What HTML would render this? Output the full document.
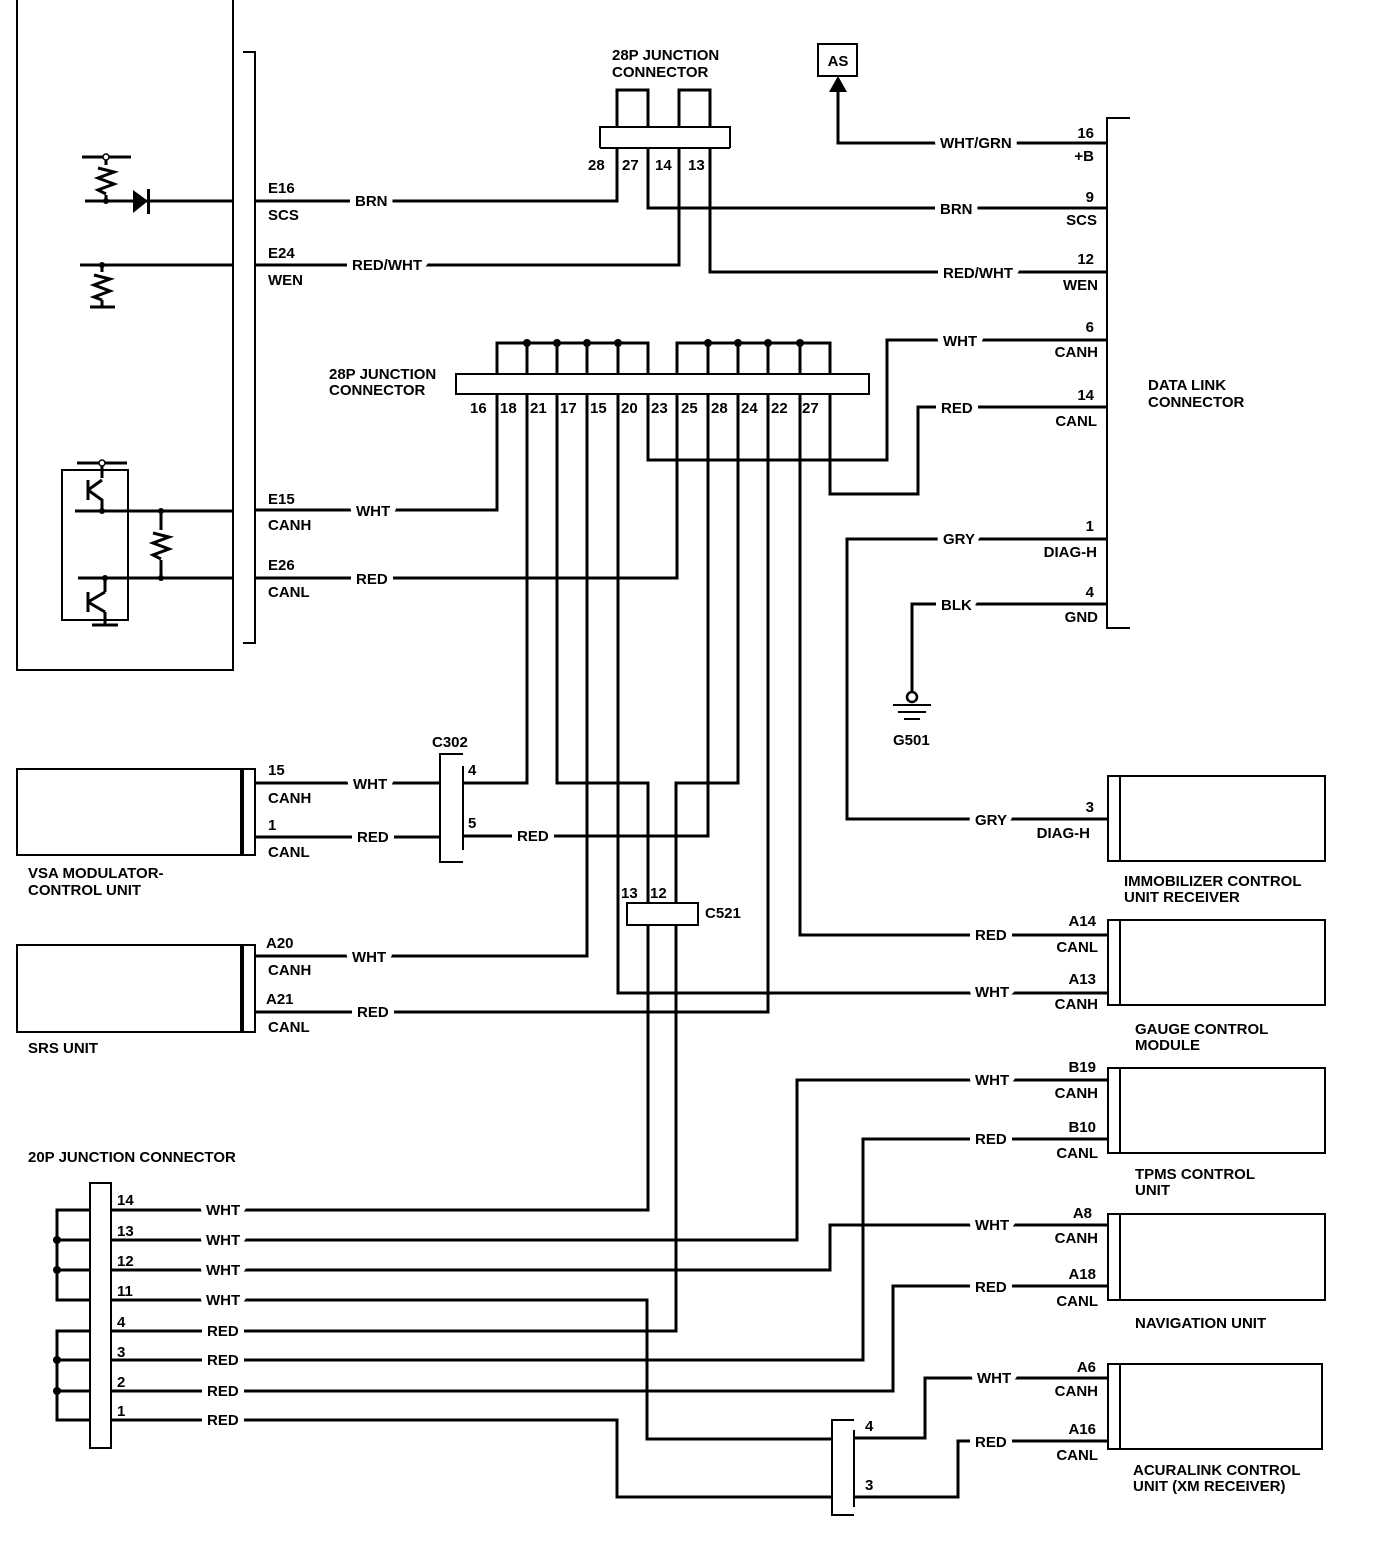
<!DOCTYPE html>
<html><head><meta charset="utf-8"><style>
html,body{margin:0;padding:0;background:#fff}
svg{display:block}
text{font-family:"Liberation Sans",Arial,sans-serif;font-weight:bold;font-size:15px;fill:#000;stroke:#fff;stroke-width:12px;paint-order:stroke;stroke-linejoin:round}
.n{stroke:none}
</style></head><body>
<svg width="1376" height="1548" viewBox="0 0 1376 1548" xmlns="http://www.w3.org/2000/svg">
<g fill="none" stroke="#000" stroke-width="2">
<path d="M17,0 V670 H233 V0"/>
<path d="M243,52 H255 V643 H243"/>
<path d="M1130,118 H1107 V628 H1130"/>
<path d="M600,148 V127 H730 V148 M600,148 H730"/>
<path d="M456,394 V374 H869 V394 Z"/>
<rect x="818" y="44" width="39" height="32"/>
<rect x="17" y="769" width="224" height="86"/><path d="M243,769 H255 V855 H243 Z"/>
<rect x="17" y="945" width="224" height="87"/><path d="M243,945 H255 V1032 H243 Z"/>
<path d="M463,754 H440 V862 H463 M463,766 V850"/>
<path d="M627,903 H698 V925 H627 Z"/>
<rect x="1120" y="776" width="205" height="85"/><path d="M1120,776 H1108 V861 H1120"/>
<rect x="1120" y="920" width="205" height="85"/><path d="M1120,920 H1108 V1005 H1120"/>
<rect x="1120" y="1068" width="205" height="85"/><path d="M1120,1068 H1108 V1153 H1120"/>
<rect x="1120" y="1214" width="205" height="86"/><path d="M1120,1214 H1108 V1300 H1120"/>
<rect x="1120" y="1364" width="202" height="85"/><path d="M1120,1364 H1108 V1449 H1120"/>
<rect x="90" y="1183" width="21" height="265"/>
<path d="M854,1420 H832 V1515 H854 M854,1430 V1507"/>
<rect x="62" y="470" width="66" height="150"/>
</g>
<g fill="none" stroke="#000" stroke-width="3">
<path d="M82,157 H131 M106,157 V165 M106,195 V201 M85,201 H233"/>
<path d="M98,168 L114,172 L98,178 L114,184 L98,190 L106,194"/>
<path d="M80,265 H233 M102,265 V272 M102,300 V307 M90,307 H115"/>
<path d="M94,275 L110,279 L94,285 L110,291 L94,297 L102,300"/>
<path d="M77,463 H127 M102,463 V478 M75,511 H233 M78,578 H233 M161,511 V530 M161,560 V578 M105,578 V592 M105,612 V625 M92,625 H118"/>
<path d="M153,533 L169,537 L153,543 L169,549 L153,555 L161,559"/>
<path d="M88,480 V500 M88,490 L102,480 M88,490 L102,500 V511 M88,592 V612 M88,602 L105,592 M88,602 L105,612"/>
<path d="M617,127 V90 H648 V127 M679,127 V90 H710 V127"/>
<path d="M497,374 V343 H648 V374 M527,343 V374 M557,343 V374 M587,343 V374 M618,343 V374"/>
<path d="M677,374 V343 H830 V374 M708,343 V374 M738,343 V374 M768,343 V374 M800,343 V374"/>
<path d="M255,201 H617 V148"/>
<path d="M648,148 V208 H1107"/>
<path d="M255,265 H679 V148"/>
<path d="M710,148 V272 H1107"/>
<path d="M838,86 V143 H1107"/>
<path d="M255,510 H497 V394"/>
<path d="M527,394 V783 H463"/>
<path d="M557,394 V783 H648 V903 M648,925 V1210 H111"/>
<path d="M587,394 V956 H255"/>
<path d="M618,394 V993 H1108"/>
<path d="M648,394 V460 H887 V340 H1107"/>
<path d="M677,394 V578 H255"/>
<path d="M738,394 V783 H676 V903 M676,925 V1331 H111"/>
<path d="M708,394 V836 H463"/>
<path d="M768,394 V1012 H255"/>
<path d="M800,394 V935 H1108"/>
<path d="M830,394 V494 H918 V407 H1107"/>
<path d="M1107,539 H847 V819 H1108"/>
<path d="M1107,604 H912 V692"/>
<path d="M255,783 H440 M255,837 H440"/>
<path d="M111,1240 H797 V1080 H1108"/>
<path d="M111,1270 H830 V1225 H1108"/>
<path d="M111,1300 H647 V1439 H832"/>
<path d="M111,1360 H863 V1139 H1108"/>
<path d="M111,1391 H893 V1286 H1108"/>
<path d="M111,1420 H617 V1497 H832"/>
<path d="M854,1438 H925 V1378 H1108"/>
<path d="M854,1497 H958 V1441 H1108"/>
<path d="M90,1210 H57 V1300 H90 M57,1240 H90 M57,1270 H90"/>
<path d="M90,1331 H57 V1420 H90 M57,1360 H90 M57,1391 H90"/>
<path d="M893,705 H931 M898,712 H926 M904,719 H920" stroke-width="2"/>
</g>
<g fill="#000">
<polygon points="829,92 847,92 838,76"/>
<polygon points="133,190 133,213 148,201"/>
<rect x="147" y="189" width="3" height="25"/>
<circle cx="106" cy="201" r="3"/><circle cx="102" cy="265" r="3"/>
<circle cx="102" cy="511" r="3"/><circle cx="161" cy="511" r="3"/><circle cx="105" cy="578" r="3"/><circle cx="161" cy="578" r="3"/>
<circle cx="527" cy="343" r="4"/><circle cx="557" cy="343" r="4"/><circle cx="587" cy="343" r="4"/><circle cx="618" cy="343" r="4"/>
<circle cx="708" cy="343" r="4"/><circle cx="738" cy="343" r="4"/><circle cx="768" cy="343" r="4"/><circle cx="800" cy="343" r="4"/>
<circle cx="57" cy="1240" r="4"/><circle cx="57" cy="1270" r="4"/><circle cx="57" cy="1360" r="4"/><circle cx="57" cy="1391" r="4"/>
</g>
<g fill="#fff" stroke="#000" stroke-width="1.5">
<circle cx="106" cy="157" r="3"/><circle cx="102" cy="463" r="3"/>
<circle cx="912" cy="697" r="5" stroke-width="2.5"/>
</g>
<text x="268" y="193" class="n">E16</text><text x="268" y="220" class="n">SCS</text><text x="355" y="206">BRN</text>
<text x="268" y="258" class="n">E24</text><text x="268" y="285" class="n">WEN</text><text x="352" y="270">RED/WHT</text>
<text x="268" y="504" class="n">E15</text><text x="268" y="530" class="n">CANH</text><text x="356" y="516">WHT</text>
<text x="268" y="570" class="n">E26</text><text x="268" y="597" class="n">CANL</text><text x="356" y="584">RED</text>
<text x="612" y="60" class="n">28P JUNCTION</text><text x="612" y="77" class="n">CONNECTOR</text>
<text x="588" y="170" class="n">28</text><text x="622" y="170" class="n">27</text><text x="655" y="170" class="n">14</text><text x="688" y="170" class="n">13</text>
<text x="838" y="66" class="n" text-anchor="middle">AS</text>
<text x="940" y="148">WHT/GRN</text><text x="1094" y="138" class="n" text-anchor="end">16</text><text x="1094" y="161" class="n" text-anchor="end">+B</text>
<text x="940" y="214">BRN</text><text x="1094" y="202" class="n" text-anchor="end">9</text><text x="1097" y="225" class="n" text-anchor="end">SCS</text>
<text x="943" y="278">RED/WHT</text><text x="1094" y="264" class="n" text-anchor="end">12</text><text x="1098" y="290" class="n" text-anchor="end">WEN</text>
<text x="943" y="346">WHT</text><text x="1094" y="332" class="n" text-anchor="end">6</text><text x="1098" y="357" class="n" text-anchor="end">CANH</text>
<text x="941" y="413">RED</text><text x="1094" y="400" class="n" text-anchor="end">14</text><text x="1097" y="426" class="n" text-anchor="end">CANL</text>
<text x="943" y="544">GRY</text><text x="1094" y="531" class="n" text-anchor="end">1</text><text x="1097" y="557" class="n" text-anchor="end">DIAG-H</text>
<text x="941" y="610">BLK</text><text x="1094" y="597" class="n" text-anchor="end">4</text><text x="1098" y="622" class="n" text-anchor="end">GND</text>
<text x="1148" y="390" class="n">DATA LINK</text><text x="1148" y="407" class="n">CONNECTOR</text>
<text x="329" y="379" class="n">28P JUNCTION</text><text x="329" y="395" class="n">CONNECTOR</text>
<text x="470" y="413" class="n">16</text><text x="500" y="413" class="n">18</text><text x="530" y="413" class="n">21</text><text x="560" y="413" class="n">17</text><text x="590" y="413" class="n">15</text><text x="621" y="413" class="n">20</text><text x="651" y="413" class="n">23</text><text x="681" y="413" class="n">25</text><text x="711" y="413" class="n">28</text><text x="741" y="413" class="n">24</text><text x="771" y="413" class="n">22</text><text x="802" y="413" class="n">27</text>
<text x="893" y="745" class="n">G501</text>
<text x="432" y="747" class="n">C302</text><text x="468" y="775" class="n">4</text><text x="468" y="828" class="n">5</text>
<text x="268" y="775" class="n">15</text><text x="268" y="803" class="n">CANH</text><text x="353" y="789">WHT</text>
<text x="268" y="830" class="n">1</text><text x="268" y="857" class="n">CANL</text><text x="357" y="842">RED</text>
<text x="28" y="878" class="n">VSA MODULATOR-</text><text x="28" y="895" class="n">CONTROL UNIT</text>
<text x="266" y="948" class="n">A20</text><text x="268" y="975" class="n">CANH</text><text x="352" y="962">WHT</text>
<text x="266" y="1004" class="n">A21</text><text x="268" y="1032" class="n">CANL</text><text x="357" y="1017">RED</text>
<text x="28" y="1053" class="n">SRS UNIT</text>
<text x="517" y="841">RED</text>
<text x="621" y="898" class="n">13</text><text x="650" y="898" class="n">12</text><text x="705" y="918" class="n">C521</text>
<text x="975" y="825">GRY</text><text x="1094" y="812" class="n" text-anchor="end">3</text><text x="1090" y="838" class="n" text-anchor="end">DIAG-H</text>
<text x="1124" y="886" class="n">IMMOBILIZER CONTROL</text><text x="1124" y="902" class="n">UNIT RECEIVER</text>
<text x="975" y="940">RED</text><text x="1096" y="926" class="n" text-anchor="end">A14</text><text x="1098" y="952" class="n" text-anchor="end">CANL</text>
<text x="975" y="997">WHT</text><text x="1096" y="984" class="n" text-anchor="end">A13</text><text x="1098" y="1009" class="n" text-anchor="end">CANH</text>
<text x="1135" y="1034" class="n">GAUGE CONTROL</text><text x="1135" y="1050" class="n">MODULE</text>
<text x="975" y="1085">WHT</text><text x="1096" y="1072" class="n" text-anchor="end">B19</text><text x="1098" y="1098" class="n" text-anchor="end">CANH</text>
<text x="975" y="1144">RED</text><text x="1096" y="1132" class="n" text-anchor="end">B10</text><text x="1098" y="1158" class="n" text-anchor="end">CANL</text>
<text x="1135" y="1179" class="n">TPMS CONTROL</text><text x="1135" y="1195" class="n">UNIT</text>
<text x="975" y="1230">WHT</text><text x="1092" y="1218" class="n" text-anchor="end">A8</text><text x="1098" y="1243" class="n" text-anchor="end">CANH</text>
<text x="975" y="1292">RED</text><text x="1096" y="1279" class="n" text-anchor="end">A18</text><text x="1098" y="1306" class="n" text-anchor="end">CANL</text>
<text x="1135" y="1328" class="n">NAVIGATION UNIT</text>
<text x="977" y="1383">WHT</text><text x="1096" y="1372" class="n" text-anchor="end">A6</text><text x="1098" y="1396" class="n" text-anchor="end">CANH</text>
<text x="975" y="1447">RED</text><text x="1096" y="1434" class="n" text-anchor="end">A16</text><text x="1098" y="1460" class="n" text-anchor="end">CANL</text>
<text x="1133" y="1475" class="n">ACURALINK CONTROL</text><text x="1133" y="1491" class="n">UNIT (XM RECEIVER)</text>
<text x="865" y="1431" class="n">4</text><text x="865" y="1490" class="n">3</text>
<text x="28" y="1162" class="n">20P JUNCTION CONNECTOR</text>
<text x="117" y="1205" class="n">14</text><text x="117" y="1236" class="n">13</text><text x="117" y="1266" class="n">12</text><text x="117" y="1296" class="n">11</text>
<text x="117" y="1327" class="n">4</text><text x="117" y="1357" class="n">3</text><text x="117" y="1387" class="n">2</text><text x="117" y="1416" class="n">1</text>
<text x="206" y="1215">WHT</text><text x="206" y="1245">WHT</text><text x="206" y="1275">WHT</text><text x="206" y="1305">WHT</text>
<text x="207" y="1336">RED</text><text x="207" y="1365">RED</text><text x="207" y="1396">RED</text><text x="207" y="1425">RED</text>
</svg>
</body></html>
